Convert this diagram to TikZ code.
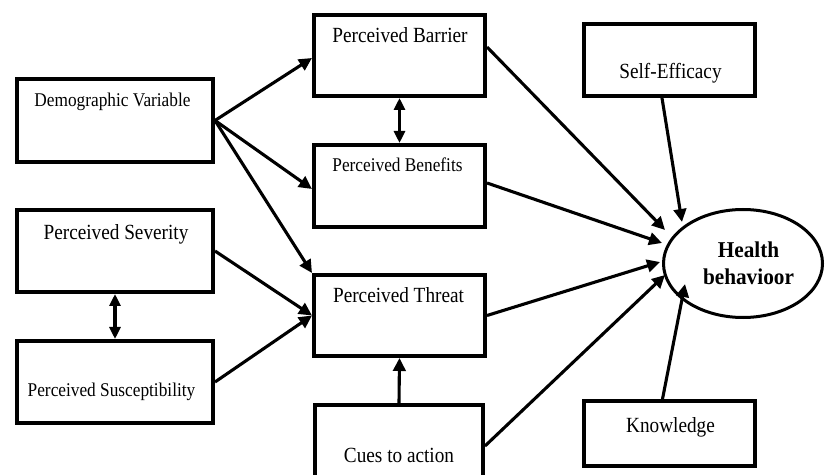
\documentclass[tikz,border=0pt]{standalone}
\usepackage{graphicx}
\usepackage{fontspec}
\setmainfont{Liberation Serif}
\usetikzlibrary{arrows.meta,calc,shapes.geometric}
\newcommand\nartxt[1]{\scalebox{0.89}[1]{#1}}
\tikzset{
  boxnode/.style={draw=black,line width=3.6bp,rectangle,inner sep=0pt,fill=white},
  txtsmall/.style={anchor=base,inner sep=0pt,font=\fontsize{19.5}{22}\selectfont},
  txtbig/.style={anchor=base,inner sep=0pt,font=\fontsize{21.7}{24}\selectfont},
  arr/.style={line width=3.1bp,-{Triangle[length=13bp,width=12.5bp]}},
  darr/.style={line width=3.1bp,{Triangle[length=12bp,width=11bp]}-{Triangle[length=12bp,width=11bp]}},
}
\begin{document}
\begin{tikzpicture}[x=1bp,y=-1bp]
\useasboundingbox (0,0) rectangle (826,475);
\clip (0,0) rectangle (826,475);
\fill[white] (0,0) rectangle (826,475);
% boxes (centres in pixel coordinates)
\node[boxnode,minimum width=196.4bp,minimum height=83.4bp] (demo) at (115,120.5) {};
\node[boxnode,minimum width=196.4bp,minimum height=82.4bp] (sev) at (115,251) {};
\node[boxnode,minimum width=196.4bp,minimum height=82.4bp] (sus) at (115,382) {};
\node[boxnode,minimum width=171.4bp,minimum height=81.4bp] (bar) at (399.5,55.5) {};
\node[boxnode,minimum width=171.4bp,minimum height=82.4bp] (ben) at (399.5,186) {};
\node[boxnode,minimum width=171.4bp,minimum height=81.4bp] (thr) at (399.5,315.5) {};
\node[boxnode,minimum width=168.4bp,minimum height=82.4bp] (cue) at (399,446) {};
\node[boxnode,minimum width=171.4bp,minimum height=72.4bp] (self) at (669.5,60) {};
\node[boxnode,minimum width=171.4bp,minimum height=65.4bp] (know) at (669.5,433.5) {};
\node[draw=black,line width=3bp,ellipse,inner sep=0pt,fill=white,minimum width=159bp,minimum height=108bp] (hb) at (743,263.5) {};
% texts
\node[txtsmall] (tdemo) at (112.5,107) {\nartxt{Demographic Variable}};
\node[txtbig] (tsev) at (116,240) {\nartxt{Perceived Severity}};
\node[txtsmall] (tsus) at (111.5,396) {\nartxt{Perceived Susceptibility}};
\node[txtbig] (tbar) at (400,43) {\nartxt{Perceived Barrier}};
\node[txtsmall] (tben) at (397.5,172) {\nartxt{Perceived Benefits}};
\node[txtbig] (tthr) at (398.5,303) {\nartxt{Perceived Threat}};
\node[txtbig] (tcue) at (399,462) {\nartxt{Cues to action}};
\node[txtbig] (tself) at (670.5,79) {\nartxt{Self-Efficacy}};
\node[txtbig] (tknow) at (670.5,432) {\nartxt{Knowledge}};
\node[anchor=base,inner sep=0pt,font=\fontsize{22.7}{27}\selectfont\bfseries] (th1) at (748.5,258) {\scalebox{0.94}[1]{Health}};
\node[anchor=base,inner sep=0pt,font=\fontsize{22.7}{27}\selectfont\bfseries] (th2) at (748.5,285) {\scalebox{0.94}[1]{behavioor}};
% connectors
\draw[arr] (demo.east) -- ($(bar.west)+(0,2.5)$);
\draw[arr] (demo.east) -- ($(ben.west)+(0,3)$);
\draw[arr] (demo.east) -- (thr.north west);
\draw[arr] (sev.east) -- (thr.west);
\draw[arr] (sus.east) -- (thr.west);
\draw[darr] (sev.south) -- (sus.north);
\draw[darr] (bar.south) -- (ben.north);
\draw[arr] (cue.north) -- (thr.south);
\draw[arr] ($(bar.east)+(0,-8.5)$) -- ($(hb.center)+(-78,-33.5)$);
\draw[arr] ($(ben.east)+(0,-3)$) -- ($(hb.center)+(-81,-20.5)$);
\draw[arr] (thr.east) -- ($(hb.center)+(-83,-1.5)$);
\draw[arr] (cue.east) -- ($(hb.center)+(-78,11.5)$);
\draw[arr] ($(self.south)+(-7.5,0)$) -- ($(hb.center)+(-61,-41.5)$);
\draw[arr] ($(know.north)+(-7,0)$) -- ($(hb.center)+(-58,20.5)$);
\end{tikzpicture}
\end{document}
